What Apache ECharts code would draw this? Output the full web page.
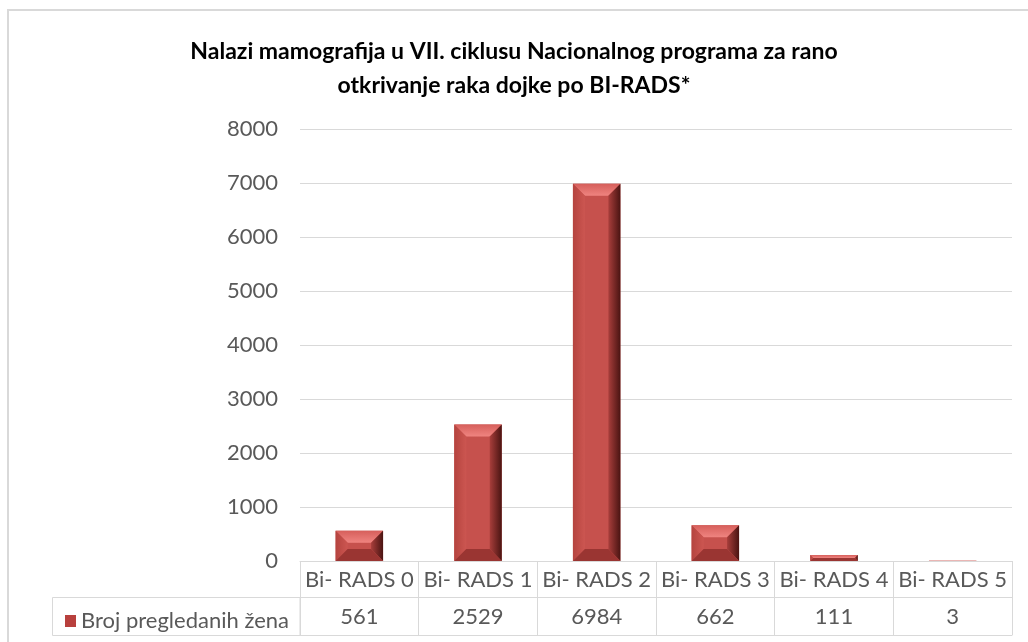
<!DOCTYPE html>
<html>
<head>
<meta charset="utf-8">
<script src="https://cdn.jsdelivr.net/npm/echarts@6/dist/echarts.min.js"></script>
<style>
  html, body { margin: 0; padding: 0; background: #fff; }
  #chart { width: 1028px; height: 642px; }
</style>
</head>
<body>
<div id="chart"></div>
<script>
// BI-RADS categories and number of examined women per category
const categories = ['Bi- RADS 0', 'Bi- RADS 1', 'Bi- RADS 2', 'Bi- RADS 3', 'Bi- RADS 4', 'Bi- RADS 5'];
const counts = [561, 2529, 6984, 662, 111, 3];
const seriesName = 'Broj pregledanih žena';
const titleText = 'Nalazi mamografija u VII. ciklusu Nacionalnog programa za rano\notkrivanje raka dojke po BI-RADS*';

const FONT = 'Lato';
const TXT = '#595959';
const LINE = '#d9d9d9';

const lin = (x, y, x2, y2, stops) => ({
  type: 'linear', x, y, x2, y2,
  colorStops: stops.map((c, i) => ({ offset: i / (stops.length - 1), color: c }))
});

// Bevelled column: front face plus four slanted facets
function renderBevelBar(params, api) {
  const idx = api.value(0);
  const val = api.value(1);
  const top = api.coord([idx, val]);
  const base = api.coord([idx, 0]);
  const w = api.size([1, 0])[0] * 0.4;
  const x0 = top[0] - w / 2, x1 = top[0] + w / 2;
  const y0 = top[1], y1 = base[1];
  const h = y1 - y0;
  if (h <= 0) return null;
  const b = Math.min(12, h / 2, w / 2);
  return {
    type: 'group',
    children: [
      { type: 'rect', shape: { x: x0, y: y0, width: w, height: h },
        style: { fill: '#c6514d' } },
      { type: 'polygon', shape: { points: [[x0, y0], [x1, y0], [x1 - b, y0 + b], [x0 + b, y0 + b]] },
        style: { fill: lin(0, 0, 0, 1, ['#d65f5b', '#ef8480']) } },
      { type: 'polygon', shape: { points: [[x0, y0], [x0 + b, y0 + b], [x0 + b, y1 - b], [x0, y1]] },
        style: { fill: lin(0, 0, 1, 0, ['#b5443f', '#cc5651']) } },
      { type: 'polygon', shape: { points: [[x1, y0], [x1, y1], [x1 - b, y1 - b], [x1 - b, y0 + b]] },
        style: { fill: lin(0, 0, 1, 0, ['#a83e3b', '#4a1412']) } },
      { type: 'polygon', shape: { points: [[x0, y1], [x1, y1], [x1 - b, y1 - b], [x0 + b, y1 - b]] },
        style: { fill: '#9a3532' } }
    ]
  };
}

const chart = echarts.init(document.getElementById('chart'));

chart.setOption({
  backgroundColor: '#ffffff',
  animation: false,
  title: {
    text: titleText,
    left: 'center',
    top: 30,
    textStyle: { fontFamily: FONT, fontSize: 23, fontWeight: 'bold', color: '#000', lineHeight: 34 }
  },
  legend: {
    data: [{ name: seriesName, icon: 'rect' }],
    left: 60,
    top: 605,
    itemWidth: 11,
    itemHeight: 12,
    itemGap: 8,
    textStyle: { fontFamily: FONT, fontSize: 22, color: TXT }
  },
  grid: { left: 300, right: 16, top: 129, bottom: 81 },
  xAxis: [
    {
      type: 'category',
      data: categories,
      position: 'bottom',
      axisLine: { show: true, lineStyle: { color: LINE, width: 1 } },
      axisTick: { show: true, interval: 0, length: 74, lineStyle: { color: LINE, width: 1 } },
      axisLabel: { interval: 0, margin: 8, fontFamily: FONT, fontSize: 22, color: TXT }
    },
    {
      type: 'category',
      data: categories,
      position: 'bottom',
      offset: 36,
      axisLine: { show: true, lineStyle: { color: LINE, width: 1 } },
      axisTick: { show: false },
      axisLabel: {
        interval: 0, margin: 9, fontFamily: FONT, fontSize: 22, color: TXT,
        formatter: (v, i) => String(counts[i])
      }
    },
    {
      type: 'category',
      data: categories,
      position: 'bottom',
      offset: 74,
      axisLine: { show: true, lineStyle: { color: LINE, width: 1 } },
      axisTick: { show: false },
      axisLabel: { show: false }
    }
  ],
  yAxis: {
    type: 'value',
    min: 0,
    max: 8000,
    interval: 1000,
    axisLine: { show: false },
    axisTick: { show: false },
    splitLine: { lineStyle: { color: LINE, width: 1 } },
    axisLabel: { margin: 22, fontFamily: FONT, fontSize: 22, color: TXT, formatter: v => String(v) }
  },
  graphic: [
    // chart frame
    { type: 'rect', shape: { x: 8, y: 10, width: 1100, height: 700 },
      style: { fill: 'none', stroke: LINE, lineWidth: 2 }, silent: true },
    // legend key cell of the data table
    { type: 'rect', shape: { x: 52.5, y: 597.5, width: 247.5, height: 38 },
      style: { fill: 'none', stroke: LINE, lineWidth: 1 }, silent: true }
  ],
  series: [
    {
      name: seriesName,
      type: 'custom',
      xAxisIndex: 0,
      renderItem: renderBevelBar,
      itemStyle: { color: '#b8403d' },
      encode: { x: 0, y: 1 },
      data: counts.map((v, i) => [i, v])
    }
  ]
});
</script>
</body>
</html>
